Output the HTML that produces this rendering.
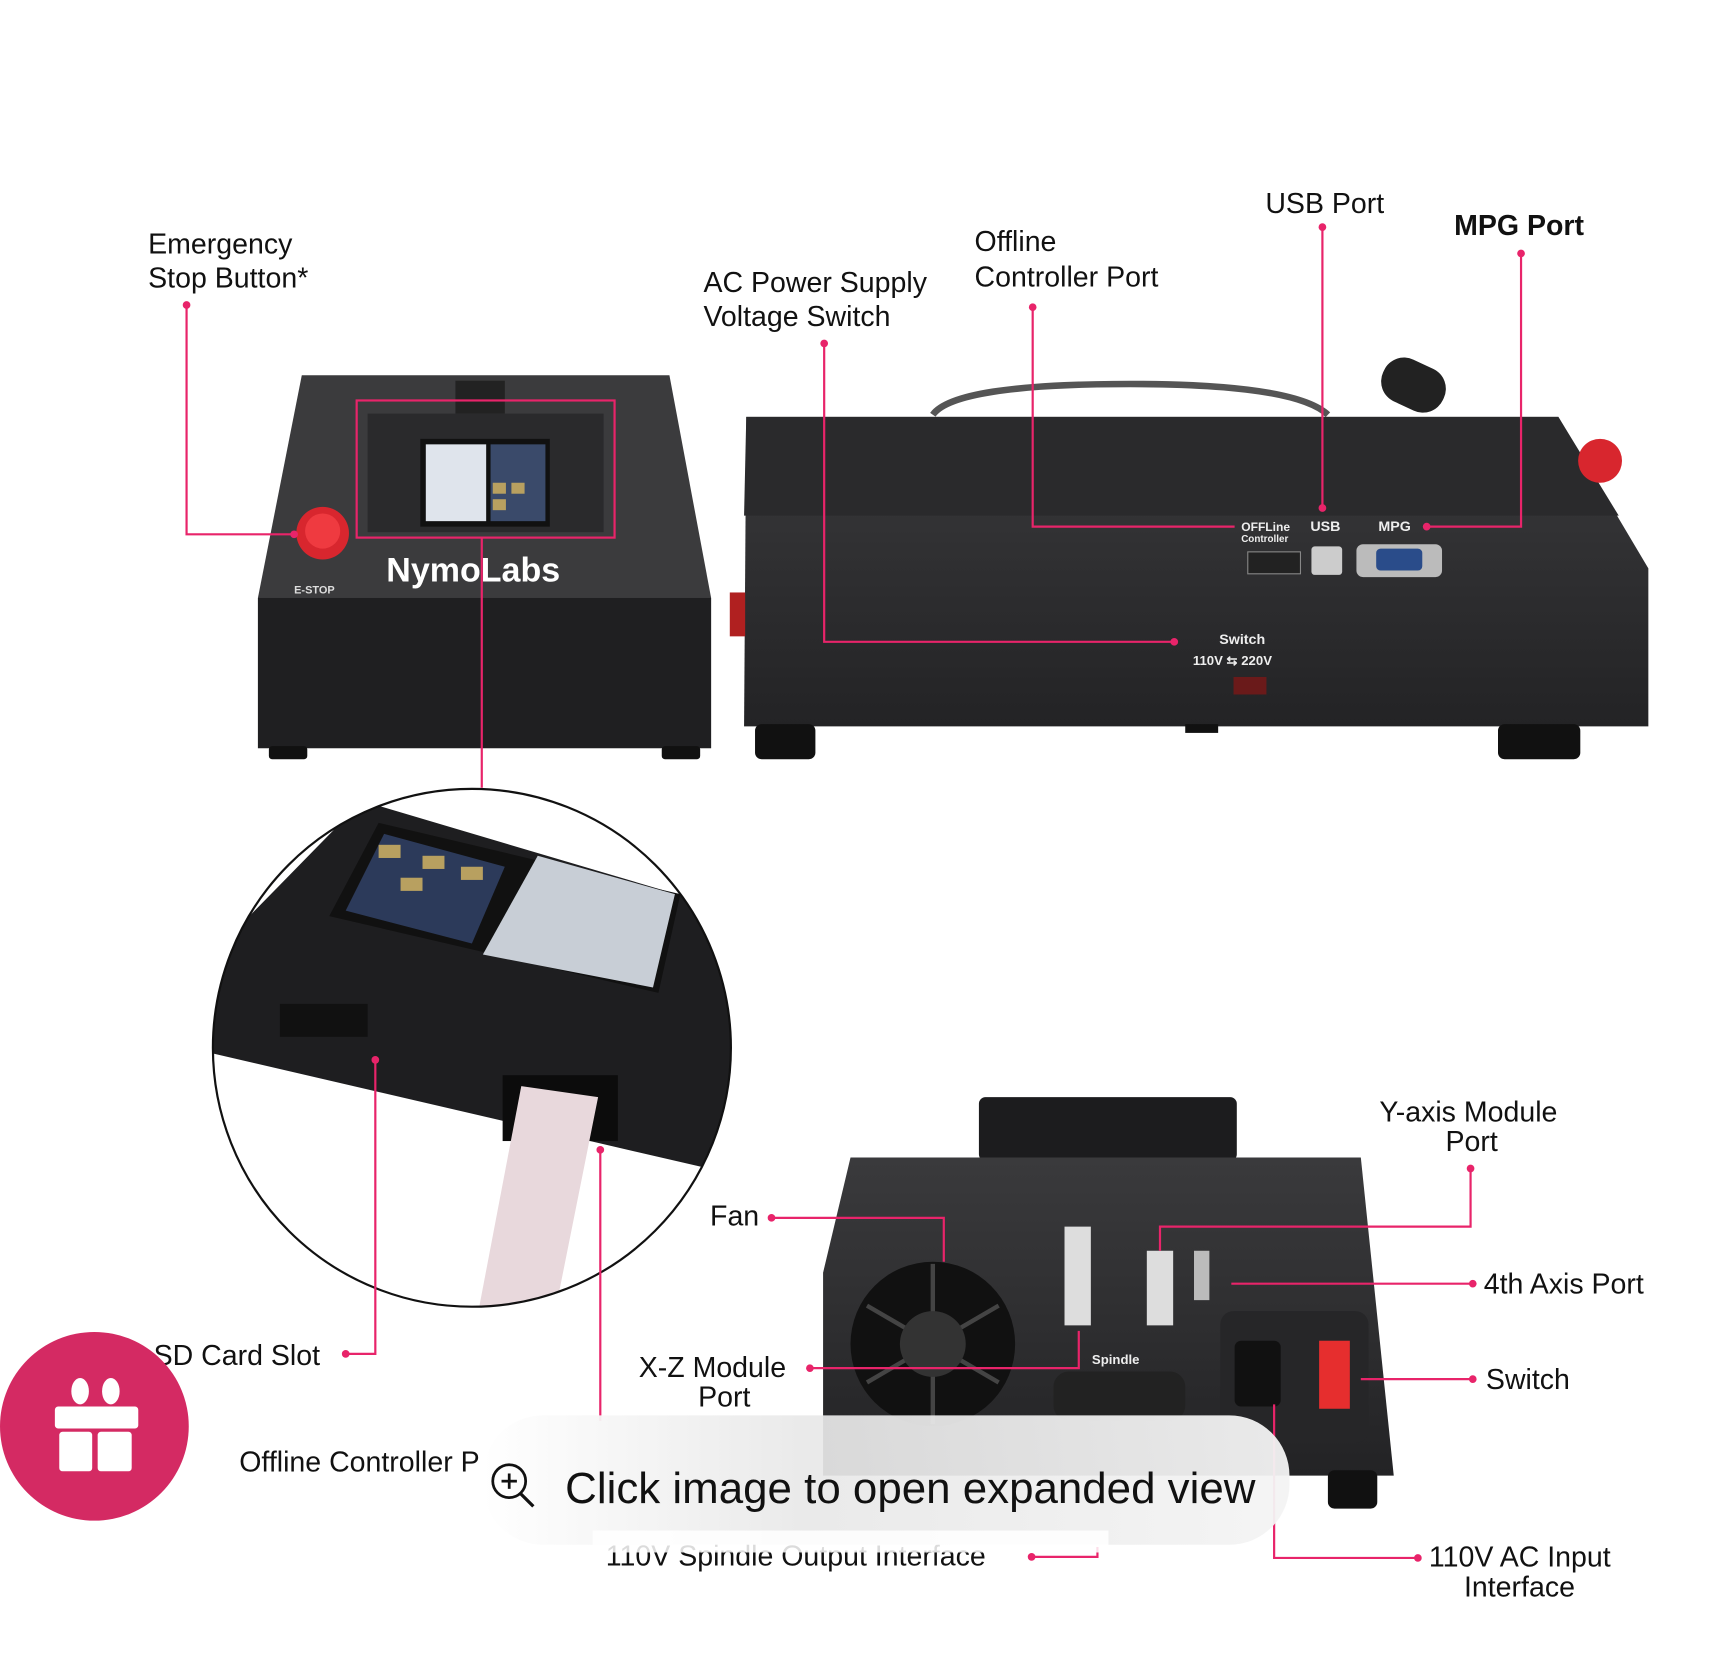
<!DOCTYPE html>
<html><head><meta charset="utf-8"><style>
html,body{margin:0;padding:0;background:#fff;width:1712px;height:1660px;overflow:hidden}
svg{display:block}
text{font-family:"Liberation Sans",sans-serif;fill:#111}
</style></head><body>
<svg width="1712" height="1660" viewBox="0 0 1560 1513" preserveAspectRatio="none" xmlns="http://www.w3.org/2000/svg">
<defs>
<linearGradient id="dk" x1="0" y1="0" x2="0" y2="1"><stop offset="0" stop-color="#3a3a3c"/><stop offset="1" stop-color="#232325"/></linearGradient>
<linearGradient id="pill" x1="0" y1="0" x2="1" y2="0"><stop offset="0" stop-color="#fff" stop-opacity=".95"/><stop offset=".4" stop-color="#e8e8e8" stop-opacity=".92"/><stop offset="1" stop-color="#f4f4f4" stop-opacity=".95"/></linearGradient>
<clipPath id="cc"><circle cx="430" cy="955" r="236"/></clipPath>
</defs>
<rect width="1560" height="1513" fill="#fff"/>

<!-- Left front device -->
<polygon points="275,342 610,342 648,545 235,545" fill="#3b3b3d"/>
<rect x="235" y="545" width="413" height="137" fill="#1f1f21"/>
<rect x="415" y="347" width="45" height="30" fill="#222"/>
<rect x="335" y="377" width="215" height="108" fill="#2a2a2c"/>
<rect x="383" y="400" width="118" height="80" fill="#111"/>
<rect x="388" y="405" width="55" height="70" fill="#dfe4ec"/>
<rect x="447" y="405" width="50" height="70" fill="#3a4a6a"/>
<rect x="449" y="440" width="12" height="10" fill="#b8a060"/><rect x="466" y="440" width="12" height="10" fill="#b8a060"/><rect x="449" y="455" width="12" height="10" fill="#b8a060"/>
<circle cx="294" cy="486" r="24" fill="#d8262e"/>
<circle cx="294" cy="484" r="16" fill="#ef3a40"/>
<text x="268" y="541" font-size="10" font-weight="bold" style="fill:#ddd">E-STOP</text>
<text x="352" y="530" font-size="31" font-weight="bold" style="fill:#fff">NymoLabs</text>
<rect x="245" y="680" width="35" height="12" rx="3" fill="#111"/>
<rect x="603" y="680" width="35" height="12" rx="3" fill="#111"/>

<!-- Right side device -->
<path d="M850,378 Q870,350 1030,350 Q1180,350 1210,378" fill="none" stroke="#555" stroke-width="6"/>
<rect x="1258" y="330" width="60" height="42" rx="20" fill="#222" transform="rotate(25 1288 351)"/>
<polygon points="680,380 1420,380 1502,518 1502,662 678,662" fill="url(#dk)"/>
<polygon points="680,380 1420,380 1475,470 678,470" fill="#2a2a2c"/>
<circle cx="1458" cy="420" r="20" fill="#d8262e"/>
<rect x="1137" y="503" width="48" height="20" fill="#222" stroke="#888"/>
<rect x="1195" y="498" width="28" height="26" rx="3" fill="#ccc"/>
<rect x="1236" y="496" width="78" height="30" rx="6" fill="#bbb"/>
<rect x="1254" y="500" width="42" height="20" rx="4" fill="#2a4c8a"/>
<text x="1131" y="484" font-size="11" font-weight="bold" style="fill:#eee">OFFLine</text>
<text x="1131" y="494" font-size="9" font-weight="bold" style="fill:#eee">Controller</text>
<text x="1194" y="484" font-size="13" font-weight="bold" style="fill:#eee">USB</text>
<text x="1256" y="484" font-size="13" font-weight="bold" style="fill:#eee">MPG</text>
<text x="1111" y="587" font-size="13" font-weight="bold" style="fill:#eee">Switch</text>
<text x="1087" y="606" font-size="12" font-weight="bold" style="fill:#eee">110V ⇆ 220V</text>
<rect x="1124" y="617" width="30" height="16" fill="#6a1a1a"/>
<rect x="665" y="540" width="14" height="40" fill="#b02020"/>
<rect x="688" y="660" width="55" height="32" rx="6" fill="#111"/>
<rect x="1365" y="660" width="75" height="32" rx="6" fill="#111"/>
<rect x="1080" y="660" width="30" height="8" fill="#111"/>

<!-- Circle zoom -->
<circle cx="430" cy="955" r="236" fill="#fff"/>
<g clip-path="url(#cc)">
<polygon points="193,870 330,730 667,830 667,1070 193,960" fill="#1e1e20"/>
<polygon points="300,835 345,750 620,815 600,905" fill="#111"/>
<polygon points="440,870 490,780 615,815 595,900" fill="#c8ced6"/>
<polygon points="315,830 350,760 460,790 430,860" fill="#2c3a5a"/>
<rect x="345" y="770" width="20" height="12" fill="#b8a060"/><rect x="385" y="780" width="20" height="12" fill="#b8a060"/><rect x="365" y="800" width="20" height="12" fill="#b8a060"/><rect x="420" y="790" width="20" height="12" fill="#b8a060"/>
<rect x="255" y="915" width="80" height="30" fill="#111"/>
<rect x="458" y="980" width="105" height="60" fill="#0c0c0c"/>
<polygon points="475,990 545,1000 505,1200 435,1200" fill="#e8d8dc"/>
</g>
<circle cx="430" cy="955" r="236" fill="none" stroke="#111" stroke-width="2"/>

<!-- Bottom rear device -->
<rect x="892" y="1000" width="235" height="58" rx="6" fill="#1c1c1e"/>
<polygon points="775,1055 1240,1055 1270,1345 750,1345 750,1160" fill="url(#dk)"/>
<circle cx="850" cy="1225" r="75" fill="#111"/>
<g stroke="#444" stroke-width="4"><line x1="790" y1="1190" x2="910" y2="1260"/><line x1="790" y1="1260" x2="910" y2="1190"/><line x1="850" y1="1152" x2="850" y2="1298"/></g>
<circle cx="850" cy="1225" r="30" fill="#333"/>
<rect x="970" y="1118" width="24" height="90" fill="#ddd"/>
<rect x="1045" y="1140" width="24" height="68" fill="#ddd"/>
<rect x="1088" y="1140" width="14" height="45" fill="#bbb"/>
<rect x="960" y="1250" width="120" height="45" rx="14" fill="#222"/>
<text x="995" y="1243" font-size="12" font-weight="bold" style="fill:#eee">Spindle</text>
<rect x="1112" y="1195" width="135" height="120" rx="12" fill="#262628"/>
<rect x="1125" y="1222" width="42" height="60" rx="6" fill="#111"/>
<rect x="1202" y="1222" width="28" height="62" fill="#e62e2e"/>
<rect x="1210" y="1340" width="45" height="35" rx="6" fill="#111"/>

<!-- pink connectors -->
<g stroke="#e8246a" stroke-width="2" fill="none">
<polyline points="170,278 170,487 268,487"/>
<polyline points="751,313 751,585 1070,585"/>
<polyline points="941,280 941,480 1125,480"/>
<polyline points="1205,207 1205,463"/>
<polyline points="1386,231 1386,480 1300,480"/>
<rect x="325" y="365" width="235" height="125"/>
<polyline points="439,490 439,718"/>
<polyline points="342,966 342,1234 315,1234"/>
<polyline points="547,1048 547,1295"/>
<polyline points="703,1110 860,1110 860,1150"/>
<polyline points="1340,1065 1340,1118 1057,1118 1057,1140"/>
<polyline points="1342,1170 1122,1170"/>
<polyline points="1342,1257 1240,1257"/>
<polyline points="738,1247 983,1247 983,1213"/>
<polyline points="1292,1420 1161,1420 1161,1280"/>
<polyline points="940,1419 1000,1419 1000,1410"/>
</g>
<g fill="#e8246a">
<circle cx="170" cy="278" r="3.5"/><circle cx="751" cy="313" r="3.5"/><circle cx="1070" cy="585" r="3.5"/>
<circle cx="941" cy="280" r="3.5"/><circle cx="1205" cy="207" r="3.5"/><circle cx="1205" cy="463" r="3.5"/>
<circle cx="1386" cy="231" r="3.5"/><circle cx="1300" cy="480" r="3.5"/><circle cx="342" cy="966" r="3.5"/>
<circle cx="315" cy="1234" r="3.5"/><circle cx="547" cy="1048" r="3.5"/><circle cx="703" cy="1110" r="3.5"/>
<circle cx="1340" cy="1065" r="3.5"/><circle cx="1342" cy="1170" r="3.5"/><circle cx="1342" cy="1257" r="3.5"/>
<circle cx="738" cy="1247" r="3.5"/><circle cx="1292" cy="1420" r="3.5"/><circle cx="940" cy="1419" r="3.5"/>
<circle cx="268" cy="487" r="3.5"/>
</g>

<!-- labels -->
<g font-size="26">
<text x="135" y="231">Emergency</text>
<text x="135" y="262">Stop Button*</text>
<text x="641" y="266">AC Power Supply</text>
<text x="641" y="297">Voltage Switch</text>
<text x="888" y="229">Offline</text>
<text x="888" y="261">Controller Port</text>
<text x="1153" y="194">USB Port</text>
<text x="1325" y="214" font-weight="bold">MPG Port</text>
<text x="1338" y="1022" text-anchor="middle">Y-axis Module</text>
<text x="1341" y="1049" text-anchor="middle">Port</text>
<text x="1352" y="1179">4th Axis Port</text>
<text x="1354" y="1266">Switch</text>
<text x="647" y="1117">Fan</text>
<text x="582" y="1255">X-Z Module</text>
<text x="660" y="1282" text-anchor="middle">Port</text>
<text x="140" y="1244">SD Card Slot</text>
<text x="218" y="1341">Offline  Controller P</text>
<text x="552" y="1427">110V Spindle Output Interface</text>
<text x="1302" y="1428">110V AC Input</text>
<text x="1334" y="1455">Interface</text>
</g>

<!-- overlay pill -->
<rect x="440" y="1290" width="735" height="118" rx="55" fill="url(#pill)"/>
<rect x="540" y="1395" width="470" height="20" fill="#fff" opacity=".85"/>
<circle cx="464" cy="1350" r="15" fill="none" stroke="#111" stroke-width="2.5"/>
<line x1="474" y1="1361" x2="486" y2="1373" stroke="#111" stroke-width="3"/>
<line x1="457" y1="1350" x2="471" y2="1350" stroke="#111" stroke-width="2.5"/>
<line x1="464" y1="1343" x2="464" y2="1357" stroke="#111" stroke-width="2.5"/>
<text x="515" y="1370" font-size="40">Click image to open expanded view</text>

<!-- gift button -->
<circle cx="86" cy="1300" r="86" fill="#d42a63"/>
<rect x="50" y="1282" width="76" height="20" rx="3" fill="#fff"/>
<rect x="54" y="1305" width="30" height="36" rx="3" fill="#fff"/>
<rect x="89" y="1305" width="31" height="36" rx="3" fill="#fff"/>
<ellipse cx="73" cy="1268" rx="8" ry="12" fill="#fff"/>
<ellipse cx="101" cy="1268" rx="8" ry="12" fill="#fff"/>
</svg>
</body></html>
